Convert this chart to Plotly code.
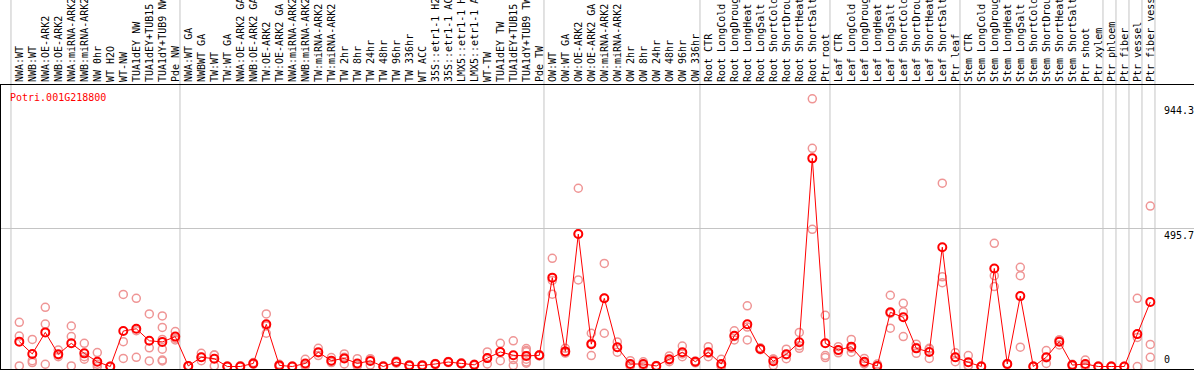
import plotly.graph_objects as go

labels = [
    "NWA:WT", "NWB:WT", "NWA:OE-ARK2", "NWB:OE-ARK2", "NWA:miRNA-ARK2", "NWB:miRNA-ARK2",
    "NW 0hr", "WT H2O", "WT-NW", "TUA1dEY NW", "TUA1dEY+TUB15 NW", "TUA1dY+TUB9 NW", "Pde NW",
    "NWA:WT GA", "NWBWT GA", "TW:WT", "TW:WT GA", "NWA:OE-ARK2 GA", "NWB:OE-ARK2 GA",
    "TW:OE-ARK2", "TW:OE-ARK2 GA", "NWA:miRNA-ARK2 GA", "NWB:miRNA-ARK2 GA", "TW:miRNA-ARK2",
    "TW:miRNA-ARK2", "TW 2hr", "TW 8hr", "TW 24hr", "TW 48hr", "TW 96hr", "TW 336hr", "WT ACC",
    "35S::etr1-1 H2O", "35S::etr1-1 ACC", "LMX5::etr1-1 H2O", "LMX5::etr1-1 ACC", "WT-TW",
    "TUA1dEY TW", "TUA1dEY+TUB15 TW", "TUA1dY+TUB9 TW", "Pde TW",
    "OW:WT", "OW:WT GA", "OW:OE-ARK2", "OW:OE-ARK2 GA", "OW:miRNA-ARK2", "OW:miRNA-ARK2",
    "OW 2hr", "OW 8hr", "OW 24hr", "OW 48hr", "OW 96hr", "OW 336hr",
    "Root CTR", "Root LongCold", "Root LongDrought", "Root LongHeat", "Root LongSalt",
    "Root ShortCold", "Root ShortDrought", "Root ShortHeat", "Root ShortSalt", "Ptr root",
    "Leaf CTR", "Leaf LongCold", "Leaf LongDrought", "Leaf LongHeat", "Leaf LongSalt",
    "Leaf ShortCold", "Leaf ShortDrought", "Leaf ShortHeat", "Leaf ShortSalt", "Ptr leaf",
    "Stem CTR", "Stem LongCold", "Stem LongDrought", "Stem LongHeat", "Stem LongSalt",
    "Stem ShortCold", "Stem ShortDrought", "Stem ShortHeat", "Stem ShortSalt", "Ptr shoot",
    "Ptr xylem", "Ptr phloem", "Ptr fiber", "Ptr vessel", "Ptr fiber vessel",
]

mean_values = [
    89, 45, 122, 44, 83, 47, 17, 0, 127, 135, 92, 88, 107,
    2, 33, 28, 0, 0, 11, 151, 4, 0, 11, 51, 21, 29, 11, 20, 0, 16, 4, 4,
    9, 16, 11, 6, 30, 52, 40, 38, 40,
    318, 54, 474, 80, 244, 69, 9, 9, 2, 26, 51, 17,
    51, 9, 110, 151, 63, 19, 44, 87, 745, 83,
    59, 71, 17, 2, 194, 176, 65, 52, 427, 33,
    15, 0, 351, 9, 252, 0, 33, 89, 5, 9,
    0, 0, 0, 116, 231,
]

replicates = [
    [158, 109, 2], [97, 21, 14], [212, 152, 8], [59, 41, 35], [145, 107, 2], [83, 35, 26],
    [50, 8, 0], [0, 0, 0], [258, 89, 29], [244, 33, 128], [188, 67, 20],
    [181, 140, 97, 62, 23, 20], [125, 101, 95],
    [2, 0, 3], [47, 21, 33], [41, 41, 2], [0, 2, 0], [0, 3, 0], [11, 8, 14], [188, 119, 145],
    [0, 8, 4], [0, 0, 2], [26, 2, 5], [65, 39, 49], [32, 14, 17], [45, 9, 33], [28, 2, 5],
    [26, 5, 28], [0, 3, 0], [16, 12, 20], [4, 6, 2], [4, 2, 6], [9, 7, 11], [16, 14, 18],
    [11, 9, 13], [6, 4, 8], [52, 9, 30], [83, 21, 52], [92, 25, 4], [64, 57, 26, 16, 12, 53],
    [40, 38, 42],
    [387, 259, 308], [65, 50, 48], [638, 310, 474], [119, 39, 83], [369, 119, 244],
    [88, 51, 68], [21, 2, 4], [17, 2, 8], [2, 0, 4], [38, 17, 23], [73, 35, 45], [13, 20, 18],
    [71, 35, 47], [26, 2, 0], [128, 95, 107], [217, 95, 141], [67, 62, 60], [4, 26, 27],
    [62, 28, 42], [122, 65, 74], [958, 781, 491], [183, 39, 32],
    [71, 49, 57], [97, 51, 65], [29, 9, 13], [9, 0, 0], [255, 137, 190], [226, 196, 107],
    [80, 47, 68], [65, 29, 62], [656, 321, 300], [49, 17, 33],
    [39, 2, 4], [0, 2, 0], [441, 325, 286], [9, 7, 11], [355, 325, 69], [0, 2, 0],
    [57, 11, 31], [95, 77, 95], [5, 2, 8], [23, 2, 2],
    [0, 2, 0], [2, 0, 0], [0, 0, 0], [244, 0, 104], [574, 79, 33],
]

group_sizes = [13, 28, 12, 10, 10, 11, 1, 1, 1, 1]
gene_name = "Potri.001G218800"
y_tick_values = [944.3, 495.7, 0]
y_tick_text = ["944.3", "495.7", "0"]

W, H = 1194, 370
ML, MR, MT, MB = 1, 0, 85, 1
# pixel geometry -> data ranges
first_px, step_px = 19.3, 13.0
x_lo = ((ML) - first_px) / step_px
x_hi = ((W - MR) - first_px) / step_px
zero_px, scale = 366.5, 0.2794
y_lo = (zero_px - (H - MB)) / scale
y_hi = (zero_px - MT) / scale

xs = list(range(len(labels)))
fig = go.Figure()

rx, ry = [], []
for i, reps in enumerate(replicates):
    for v in reps:
        rx.append(xs[i])
        ry.append(v)
fig.add_trace(go.Scatter(
    x=rx, y=ry, mode="markers",
    marker=dict(symbol="circle-open", size=8, color="#ef9595", line=dict(width=1.5)),
    hoverinfo="skip", showlegend=False))
fig.add_trace(go.Scatter(
    x=xs, y=mean_values, mode="lines+markers",
    line=dict(color="#ff0000", width=1),
    marker=dict(symbol="circle-open", size=8, color="#ff0000", line=dict(width=2)),
    showlegend=False))

def xpaper(xd):
    return (xd - x_lo) / (x_hi - x_lo)

shapes = []
cum = 0
bounds = [0]
for g in group_sizes:
    cum += g
    bounds.append(cum)
for b in bounds:
    xp = xpaper(b - 0.64)
    shapes.append(dict(type="line", xref="paper", yref="paper", x0=xp, x1=xp,
                       y0=0, y1=1 + MT / (H - MT - MB), line=dict(color="#c4c4c4", width=1),
                       layer="below"))

annotations = [dict(text=gene_name, xref="paper", yref="paper",
                    x=(8 - ML) / (W - ML - MR), y=(H - MB - 97) / (H - MT - MB),
                    xanchor="left", yanchor="middle", showarrow=False,
                    font=dict(family="DejaVu Sans Mono", size=10, color="#ff0000"))]
for v, t in zip(y_tick_values, y_tick_text):
    annotations.append(dict(text=t, xref="paper", yref="y", x=(1162 - ML) / (W - ML - MR), y=v,
                            xanchor="left", yanchor="bottom" if v == 0 else "top",
                            showarrow=False,
                            font=dict(family="DejaVu Sans Mono", size=10, color="#000000")))

fig.update_layout(
    width=W, height=H, margin=dict(l=ML, r=MR, t=MT, b=MB, pad=0),
    paper_bgcolor="white", plot_bgcolor="white",
    shapes=shapes, annotations=annotations,
    xaxis=dict(range=[x_lo, x_hi], side="top", tickmode="array", tickvals=xs, ticktext=labels,
               tickangle=-90, tickfont=dict(family="DejaVu Sans Mono", size=10, color="#000"),
               showgrid=False, zeroline=False, showline=True, linecolor="#000", linewidth=1,
               mirror=True, ticks="", automargin=False),
    yaxis=dict(range=[y_lo, y_hi], tickmode="array", tickvals=[495.7], showticklabels=False,
               showgrid=True, gridcolor="#c4c4c4", gridwidth=1, zeroline=False,
               showline=True, linecolor="#000", linewidth=2, ticks="", automargin=False),
)
fig.write_html("out.html", config={"displayModeBar": False},
               post_script="document.body.style.margin='0';document.body.style.overflow='hidden';")
